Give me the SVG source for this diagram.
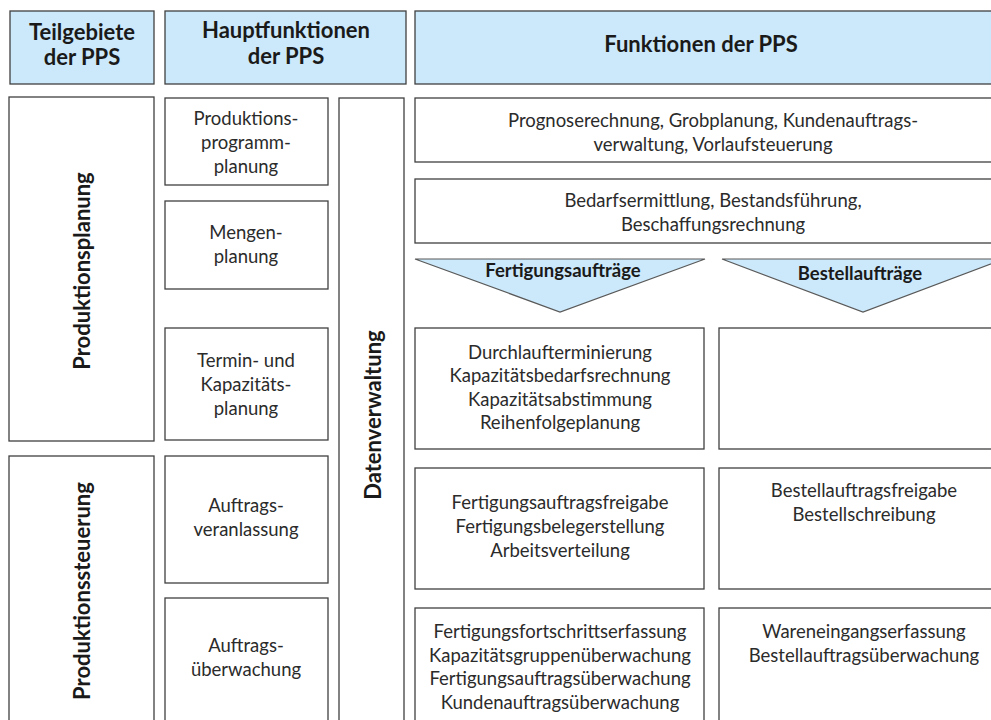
<svg xmlns="http://www.w3.org/2000/svg" width="991" height="720" viewBox="0 0 991 720">
  <style>
    .box { fill: #ffffff; stroke: #404040; stroke-width: 1.3; }
    .head { fill: #cce9fb; stroke: #404040; stroke-width: 1.3; }
    .tri { fill: #cce9fb; stroke: #595959; stroke-width: 1.2; }
    text { font-family: Lato, "Liberation Sans", sans-serif; fill: #2b2b2b; text-anchor: middle; }
    .t { font-size: 18.5px; }
    .b { font-size: 18.5px; font-weight: bold; fill: #1a1a1a; }
    .bh { font-size: 22px; font-weight: bold; fill: #1a1a1a; }
  </style>
  <rect width="991" height="720" fill="#ffffff"/>

  <!-- column headers -->
  <g id="head-teilgebiete">
    <rect class="head" x="10" y="11" width="144" height="73"/>
    <text class="bh" x="82" y="40">Teilgebiete</text>
    <text class="bh" x="82" y="65">der PPS</text>
  </g>
  <g id="head-hauptfunktionen">
    <rect class="head" x="165" y="11" width="241" height="73"/>
    <text class="bh" x="286" y="38">Hauptfunktionen</text>
    <text class="bh" x="286" y="64">der PPS</text>
  </g>
  <g id="head-funktionen">
    <rect class="head" x="415" y="11" width="590" height="73"/>
    <text class="bh" x="701" y="52">Funktionen der PPS</text>
  </g>

  <!-- sub-areas -->
  <g id="produktionsplanung">
    <rect class="box" x="9" y="97" width="145" height="344"/>
    <text class="bh" transform="translate(90,271) rotate(-90)">Produktionsplanung</text>
  </g>
  <g id="produktionssteuerung">
    <rect class="box" x="9" y="456" width="145" height="280"/>
    <text class="bh" transform="translate(90,591) rotate(-90)">Produktionssteuerung</text>
  </g>

  <!-- main functions -->
  <g id="produktionsprogrammplanung">
    <rect class="box" x="165" y="98" width="163" height="87"/>
    <text class="t" x="246" y="125">Produktions-</text>
    <text class="t" x="246" y="149">programm-</text>
    <text class="t" x="246" y="173">planung</text>
  </g>
  <g id="mengenplanung">
    <rect class="box" x="165" y="201" width="163" height="88"/>
    <text class="t" x="246" y="239">Mengen-</text>
    <text class="t" x="246" y="263">planung</text>
  </g>
  <g id="termin-kapazitaetsplanung">
    <rect class="box" x="165" y="328" width="163" height="112"/>
    <text class="t" x="246" y="367">Termin- und</text>
    <text class="t" x="246" y="391">Kapazitäts-</text>
    <text class="t" x="246" y="415">planung</text>
  </g>
  <g id="auftragsveranlassung">
    <rect class="box" x="165" y="456" width="163" height="127"/>
    <text class="t" x="246" y="512">Auftrags-</text>
    <text class="t" x="246" y="536">veranlassung</text>
  </g>
  <g id="auftragsueberwachung">
    <rect class="box" x="165" y="598" width="163" height="140"/>
    <text class="t" x="246" y="652">Auftrags-</text>
    <text class="t" x="246" y="676">überwachung</text>
  </g>
  <g id="datenverwaltung">
    <rect class="box" x="339" y="98" width="65" height="640"/>
    <text class="bh" transform="translate(381,415) rotate(-90)">Datenverwaltung</text>
  </g>

  <!-- functions -->
  <g id="f-programm">
    <rect class="box" x="415" y="98" width="600" height="64"/>
    <text class="t" x="713" y="127">Prognoserechnung, Grobplanung, Kundenauftrags-</text>
    <text class="t" x="713" y="151">verwaltung, Vorlaufsteuerung</text>
  </g>
  <g id="f-mengen">
    <rect class="box" x="415" y="179" width="600" height="64"/>
    <text class="t" x="713" y="207">Bedarfsermittlung, Bestandsführung,</text>
    <text class="t" x="713" y="231">Beschaffungsrechnung</text>
  </g>
  <g id="f-fertigungsauftraege">
    <polygon class="tri" points="415,259 705,259 560,312"/>
    <text class="b" x="563" y="277">Fertigungsaufträge</text>
  </g>
  <g id="f-bestellauftraege">
    <polygon class="tri" points="722,259 1004,259 863,312"/>
    <text class="b" x="860" y="280">Bestellaufträge</text>
  </g>
  <g id="f-termin-fertigung">
    <rect class="box" x="415" y="328" width="289" height="121"/>
    <text class="t" x="560" y="359">Durchlaufterminierung</text>
    <text class="t" x="560" y="382">Kapazitätsbedarfsrechnung</text>
    <text class="t" x="560" y="406">Kapazitätsabstimmung</text>
    <text class="t" x="560" y="429">Reihenfolgeplanung</text>
  </g>
  <g id="f-termin-bestellung">
    <rect class="box" x="719" y="328" width="300" height="121"/>
  </g>
  <g id="f-veranlassung-fertigung">
    <rect class="box" x="415" y="468" width="289" height="121"/>
    <text class="t" x="560" y="509">Fertigungsauftragsfreigabe</text>
    <text class="t" x="560" y="533">Fertigungsbelegerstellung</text>
    <text class="t" x="560" y="557">Arbeitsverteilung</text>
  </g>
  <g id="f-veranlassung-bestellung">
    <rect class="box" x="719" y="468" width="300" height="121"/>
    <text class="t" x="864" y="497">Bestellauftragsfreigabe</text>
    <text class="t" x="864" y="521">Bestellschreibung</text>
  </g>
  <g id="f-ueberwachung-fertigung">
    <rect class="box" x="415" y="608" width="289" height="130"/>
    <text class="t" x="560" y="638">Fertigungsfortschrittserfassung</text>
    <text class="t" x="560" y="662">Kapazitätsgruppenüberwachung</text>
    <text class="t" x="560" y="685">Fertigungsauftragsüberwachung</text>
    <text class="t" x="560" y="709">Kundenauftragsüberwachung</text>
  </g>
  <g id="f-ueberwachung-bestellung">
    <rect class="box" x="719" y="608" width="300" height="130"/>
    <text class="t" x="864" y="638">Wareneingangserfassung</text>
    <text class="t" x="864" y="662">Bestellauftragsüberwachung</text>
  </g>

  <g id="connectors"/>
</svg>
